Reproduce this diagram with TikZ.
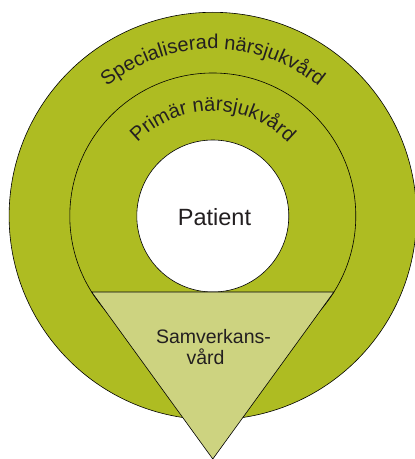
\documentclass[tikz,border=0pt]{standalone}
\usepackage{fontspec}
\setmainfont{Liberation Sans}
\usetikzlibrary{decorations.text}
\definecolor{ringgreen}{RGB}{174,188,34}
\definecolor{trigreen}{RGB}{205,211,128}
\definecolor{inkdark}{RGB}{35,31,32}
\tikzset{
  ring/.style={draw=black, line width=0.6pt},
  lbl/.style={text=inkdark, inner sep=0pt, anchor=base},
}
\begin{document}
\begin{tikzpicture}[x=1pt,y=1pt]
\useasboundingbox (0,0) rectangle (415,459);
\begin{scope}
\clip (0,0) rectangle (415,459);
\coordinate (c) at (212.8,243);
% outer ring
\draw[ring, fill=ringgreen] (c) circle[radius=203.7];
% middle ring
\draw[ring] (c) circle[radius=143];
% patient circle
\draw[ring, fill=white] (c) circle[radius=76];
% triangle
\coordinate (tl) at (91.7,167);
\coordinate (tr) at (333.9,167);
\coordinate (ap) at (212.8,0);
\draw[ring, fill=trigreen, line join=miter] (tl) -- (tr) -- (ap) -- cycle;
\end{scope}
% curved labels
\path[decorate, decoration={text along path, text align=center,
  text={|\fontsize{20}{24}\selectfont\color{inkdark}|Specialiserad närsjukvård}}]
  (c) ++(175:167) arc[start angle=175, end angle=5, radius=167];
\path[decorate, decoration={text along path, text align=center,
  text={|\fontsize{20}{24}\selectfont\color{inkdark}|Primär närsjukvård}}]
  (c) ++(178:105) arc[start angle=178, end angle=2, radius=105];
% straight labels
\node[lbl, font=\fontsize{23.5}{28}\selectfont] (patient) at (214.5,233) {Patient};
\node[lbl, font=\fontsize{19.5}{23}\selectfont] (samv1) at (213.5,115.7) {Samverkans-};
\node[lbl, font=\fontsize{19.5}{23}\selectfont] (samv2) at (205.5,94) {vård};
\end{tikzpicture}
\end{document}
